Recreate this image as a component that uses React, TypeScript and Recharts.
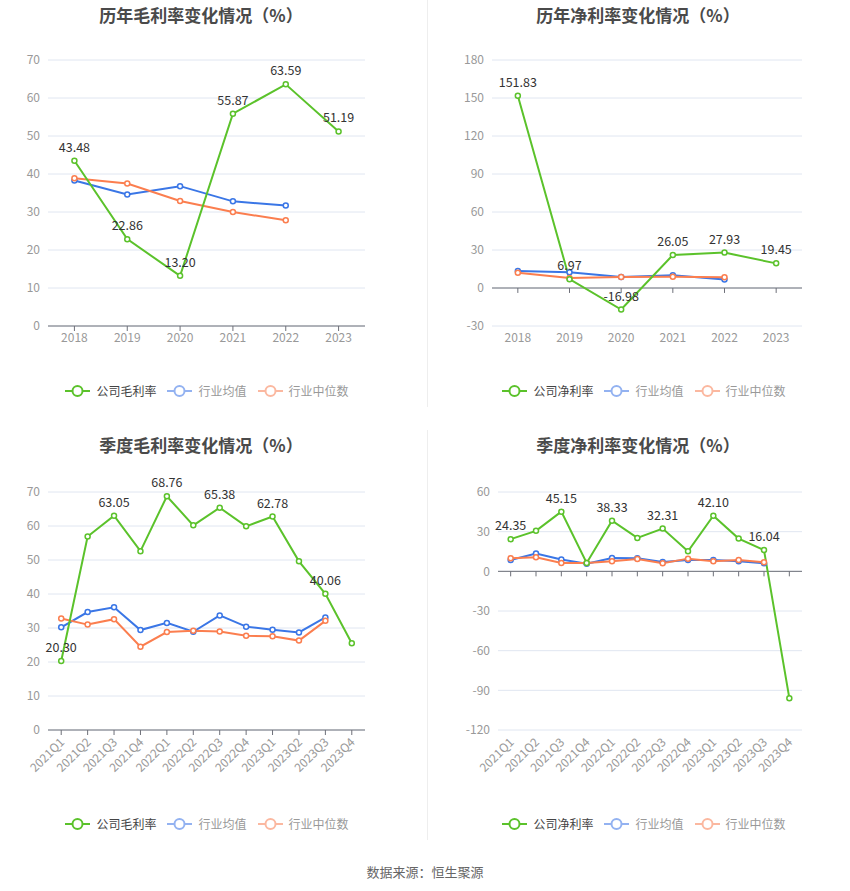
import React from "react"
import {
  LineChart,
  Line,
  XAxis,
  YAxis,
  CartesianGrid,
  ReferenceLine,
} from "recharts"

const years = ["2018", "2019", "2020", "2021", "2022", "2023"]
const grossCompany = [43.48, 22.86, 13.2, 55.87, 63.59, 51.19]
const grossAvg = [38.3, 34.6, 36.8, 32.8, 31.7, null]
const grossMedian = [38.9, 37.5, 32.9, 30.0, 27.8, null]
const netCompany = [151.83, 6.97, -16.98, 26.05, 27.93, 19.45]
const netAvg = [13.4, 12.4, 8.7, 10.0, 6.8, null]
const netMedian = [12.1, 7.9, 8.7, 8.9, 8.4, null]

const quarters = [
  "2021Q1", "2021Q2", "2021Q3", "2021Q4",
  "2022Q1", "2022Q2", "2022Q3", "2022Q4",
  "2023Q1", "2023Q2", "2023Q3", "2023Q4",
]
const qGrossCompany = [20.3, 56.9, 63.05, 52.6, 68.76, 60.2, 65.38, 59.9, 62.78, 49.6, 40.06, 25.5]
const qGrossAvg = [30.2, 34.7, 36.1, 29.4, 31.5, 28.9, 33.7, 30.4, 29.5, 28.7, 33.1, null]
const qGrossMedian = [32.8, 31.0, 32.6, 24.5, 28.8, 29.2, 29.0, 27.7, 27.6, 26.3, 32.1, null]
const qNetCompany = [24.35, 30.6, 45.15, 6.3, 38.33, 25.3, 32.31, 15.2, 42.1, 24.8, 16.04, -95.9]
const qNetAvg = [8.6, 13.4, 8.9, 5.8, 10.1, 9.9, 7.1, 8.6, 8.6, 7.6, 6.1, null]
const qNetMedian = [9.9, 10.6, 6.3, 6.3, 7.6, 9.4, 6.1, 9.6, 7.6, 8.6, 6.8, null]

const grossTicks = [0, 10, 20, 30, 40, 50, 60, 70]
const netTicks = [-30, 0, 30, 60, 90, 120, 150, 180]
const qNetTicks = [-120, -90, -60, -30, 0, 30, 60]

const GREEN = "#5bc22b"
const BLUE = "#3a76e6"
const ORANGE = "#fb7e4f"
const FONT = "'Noto Sans CJK SC', 'Noto Sans', sans-serif"

const makeLabel = (every: number) => (props: any) => {
  const { x, y, value, index } = props
  if (index % every !== 0) return <g />
  return (
    <text x={x} y={y - 9} textAnchor="middle" fontSize={12.5} fill="#333" fontFamily={FONT}>
      {Number(value).toFixed(2)}
    </text>
  )
}

const RotatedTick = (props: any) => {
  const { x, y, payload } = props
  return (
    <text
      x={x + 4}
      y={y + 6}
      transform={`rotate(-45, ${x + 4}, ${y + 6})`}
      textAnchor="end"
      fontSize={12}
      fill="#999"
      fontFamily={FONT}
    >
      {payload.value}
    </text>
  )
}

function LegendIcon({ color }: { color: string }) {
  return (
    <svg width={25} height={14} style={{ marginRight: 6 }}>
      <line x1={0} y1={7} x2={25} y2={7} stroke={color} strokeWidth={2} />
      <circle cx={12.5} cy={7} r={5} fill="#fff" stroke={color} strokeWidth={2} />
    </svg>
  )
}

function Legend({ cx, top, name }: { cx: number; top: number; name: string }) {
  const items = [
    { label: name, icon: GREEN, text: "#444" },
    { label: "行业均值", icon: "#93b2f1", text: "#999" },
    { label: "行业中位数", icon: "#fbb8a0", text: "#999" },
  ]
  return (
    <div
      style={{
        position: "absolute",
        left: cx - 200,
        width: 400,
        top,
        display: "flex",
        justifyContent: "center",
        alignItems: "center",
        fontSize: 12,
        fontFamily: FONT,
      }}
    >
      {items.map((it, i) => (
        <div
          key={it.label}
          style={{ display: "flex", alignItems: "center", marginLeft: i === 0 ? 0 : 11, color: it.text }}
        >
          <LegendIcon color={it.icon} />
          {it.label}
        </div>
      ))}
    </div>
  )
}

type PanelProps = {
  left: number
  top: number
  height: number
  margin: { top: number; right: number; left: number; bottom: number }
  title: string
  titleX: number
  legendTop: number
  legendX: number
  name: string
  categories: string[]
  company: number[]
  avg: (number | null)[]
  median: (number | null)[]
  ticks: number[]
  rotate?: boolean
  every: number
  tickLen?: number
}

function Panel(p: PanelProps) {
  const rows = p.categories.map((c, i) => ({
    name: c,
    company: p.company[i],
    avg: p.avg[i],
    median: p.median[i],
  }))
  const domain = [p.ticks[0], p.ticks[p.ticks.length - 1]]
  const hasNeg = p.ticks[0] < 0
  return (
    <>
      <div
        style={{
          position: "absolute",
          left: p.titleX - 200,
          width: 400,
          top: p.top + 2,
          textAlign: "center",
          fontSize: 17,
          fontWeight: "bold",
          color: "#4a4a4a",
          fontFamily: FONT,
        }}
      >
        {p.title}
      </div>
      <div style={{ position: "absolute", left: p.left, top: p.top }}>
        <LineChart width={425} height={p.height} data={rows} margin={p.margin}>
          <CartesianGrid vertical={false} stroke="#e0e6f1" />
          <XAxis
            dataKey="name"
            scale="band"
            interval={0}
            height={p.rotate ? 60 : 30}
            axisLine={hasNeg ? false : { stroke: "#6e7079" }}
            tickLine={hasNeg ? false : { stroke: "#6e7079" }}
            tickSize={5}
            tick={p.rotate ? <RotatedTick /> : { fill: "#999", fontSize: 12, fontFamily: FONT }}
          />
          <YAxis
            width={40}
            domain={domain}
            ticks={p.ticks}
            interval={0}
            axisLine={false}
            tickLine={false}
            tick={{ fill: "#999", fontSize: 12, fontFamily: FONT }}
          />
          {hasNeg && <ReferenceLine y={0} stroke="#6e7079" />}
          {hasNeg &&
            p.categories.map((c) => (
              <ReferenceLine
                key={c}
                segment={[
                  { x: c, y: 0 },
                  { x: c, y: -(p.tickLen || 4) },
                ]}
                stroke="#6e7079"
              />
            ))}
          <Line
            dataKey="avg"
            stroke={BLUE}
            strokeWidth={2}
            dot={{ r: 2.5, strokeWidth: 1.5, fill: "#fff" }}
            isAnimationActive={false}
          />
          <Line
            dataKey="median"
            stroke={ORANGE}
            strokeWidth={2}
            dot={{ r: 2.5, strokeWidth: 1.5, fill: "#fff" }}
            isAnimationActive={false}
          />
          <Line
            dataKey="company"
            stroke={GREEN}
            strokeWidth={2}
            dot={{ r: 2.5, strokeWidth: 1.5, fill: "#fff" }}
            label={makeLabel(p.every)}
            isAnimationActive={false}
          />
        </LineChart>
      </div>
      <Legend cx={p.legendX} top={p.legendTop} name={p.name} />
    </>
  )
}

export default function App() {
  return (
    <div
      style={{
        position: "absolute",
        left: 0,
        top: 0,
        width: 850,
        height: 891,
        background: "#fff",
        overflow: "hidden",
      }}
    >
      <div style={{ position: "absolute", left: 427, top: 0, width: 1, height: 407, background: "#eee" }} />
      <div style={{ position: "absolute", left: 427, top: 430, width: 1, height: 410, background: "#eee" }} />
      <Panel
        left={0}
        top={0}
        height={360}
        margin={{ top: 60, right: 60, left: 8, bottom: 4 }}
        title="历年毛利率变化情况（%）"
        titleX={201}
        legendTop={382}
        legendX={207}
        name="公司毛利率"
        categories={years}
        company={grossCompany}
        avg={grossAvg}
        median={grossMedian}
        ticks={grossTicks}
        every={1}
      />
      <Panel
        left={425}
        top={0}
        height={360}
        margin={{ top: 60, right: 48, left: 27, bottom: 4 }}
        title="历年净利率变化情况（%）"
        titleX={638}
        legendTop={382}
        legendX={644}
        name="公司净利率"
        categories={years}
        company={netCompany}
        avg={netAvg}
        median={netMedian}
        ticks={netTicks}
        every={1}
        tickLen={3.9}
      />
      <Panel
        left={0}
        top={430}
        height={380}
        margin={{ top: 62, right: 60, left: 8, bottom: 20 }}
        title="季度毛利率变化情况（%）"
        titleX={201}
        legendTop={815}
        legendX={207}
        name="公司毛利率"
        categories={quarters}
        company={qGrossCompany}
        avg={qGrossAvg}
        median={qGrossMedian}
        ticks={grossTicks}
        rotate
        every={2}
      />
      <Panel
        left={425}
        top={430}
        height={380}
        margin={{ top: 62, right: 48, left: 33, bottom: 20 }}
        title="季度净利率变化情况（%）"
        titleX={638}
        legendTop={815}
        legendX={644}
        name="公司净利率"
        categories={quarters}
        company={qNetCompany}
        avg={qNetAvg}
        median={qNetMedian}
        ticks={qNetTicks}
        rotate
        every={2}
        tickLen={3.8}
      />
      <div
        style={{
          position: "absolute",
          left: 0,
          width: 850,
          top: 862,
          textAlign: "center",
          fontSize: 13,
          color: "#666",
          fontFamily: FONT,
        }}
      >
        数据来源：恒生聚源
      </div>
    </div>
  )
}
